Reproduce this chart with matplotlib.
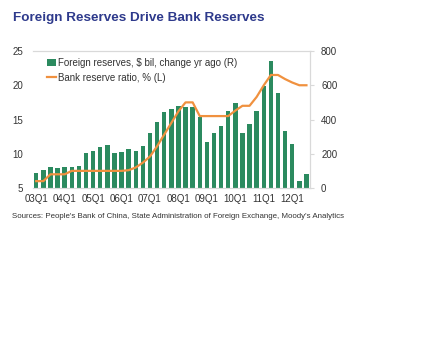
import matplotlib.pyplot as plt
import numpy as np

plt.rcParams['font.family'] = ['Liberation Sans', 'DejaVu Sans']

# quarters 03Q1 .. 12Q3
quarters = [f"{y:02d}Q{q}" for y in range(3, 13) for q in range(1, 5)][:39]
tick_labels = ["03Q1", "04Q1", "05Q1", "06Q1", "07Q1", "08Q1", "09Q1", "10Q1", "11Q1", "12Q1"]

# foreign reserves, $ bil, change yr ago (right axis)
fx_change = [88, 104, 124, 116, 120, 120, 128, 204,
             216, 240, 252, 204, 212, 228, 216, 244,
             324, 388, 442, 459, 479, 475, 471, 417,
             271, 323, 364, 452, 494, 323, 374, 448,
             596, 742, 553, 333, 257, 41, 84]

# bank reserve ratio, % (left axis)
rrr = [6.0, 6.0, 7.0, 7.0, 7.0, 7.5, 7.5, 7.5,
       7.5, 7.5, 7.5, 7.5, 7.5, 7.6, 8.0, 8.7,
       9.6, 11.1, 12.8, 14.5, 16.2, 17.5, 17.5, 15.5,
       15.5, 15.5, 15.5, 15.5, 16.3, 17.0, 17.0, 18.3,
       20.0, 21.5, 21.5, 20.9, 20.4, 20.0, 20.0]

bar_color = "#2b8a5f"
line_color = "#f0913f"
frame_color = "#d9d9d9"

fig = plt.figure(figsize=(4.21, 3.44), dpi=100)
ax = fig.add_axes([33 / 421, 1 - 188 / 344, 277 / 421, 137 / 344])
ax2 = ax.twinx()

x = np.arange(len(quarters))
bars = ax2.bar(x, fx_change, width=0.62, color=bar_color,
               label="Foreign reserves, $ bil, change yr ago (R)")
line, = ax.plot(x, rrr, color=line_color, lw=1.6,
                label="Bank reserve ratio, % (L)")

# line on top of bars
ax.set_zorder(ax2.get_zorder() + 1)
ax.patch.set_visible(False)

ax.set_xlim(-0.45, 38.5)
ax.set_ylim(5, 25)
ax.set_yticks([5, 10, 15, 20, 25])
ax2.set_ylim(0, 800)
ax2.set_yticks([0, 200, 400, 600, 800])
ax.set_xticks(np.arange(0, 37, 4))
ax.set_xticklabels(tick_labels)

for a in (ax, ax2):
    for s in a.spines.values():
        s.set_color(frame_color)
        s.set_linewidth(0.8)
    a.spines["left"].set_visible(False)
    a.tick_params(labelsize=7, colors="#333333")
ax.tick_params(axis="y", length=0, pad=7)
ax.tick_params(axis="x", length=0, pad=4)
ax2.tick_params(axis="y", length=3, width=0.8, color=frame_color, pad=5)

leg = ax.legend([bars, line],
                ["Foreign reserves, $ bil, change yr ago (R)", "Bank reserve ratio, % (L)"],
                loc="upper left", bbox_to_anchor=(0.031, 0.99), frameon=False,
                fontsize=7, handlelength=0.9, handletextpad=0.2, labelspacing=0.45,
                borderaxespad=0.2)
for t in leg.get_texts():
    t.set_color("#333333")

fig.text(13 / 421, 1 - 18 / 344, "Foreign Reserves Drive Bank Reserves",
         fontsize=9.7, fontweight="bold", color="#2e3a8c", va="center")
fig.text(12 / 421, 1 - 217 / 344,
         "Sources: People's Bank of China, State Administration of Foreign Exchange, Moody's Analytics",
         fontsize=5.7, color="#333333", va="center")

fig.savefig("out.png", dpi=100)
